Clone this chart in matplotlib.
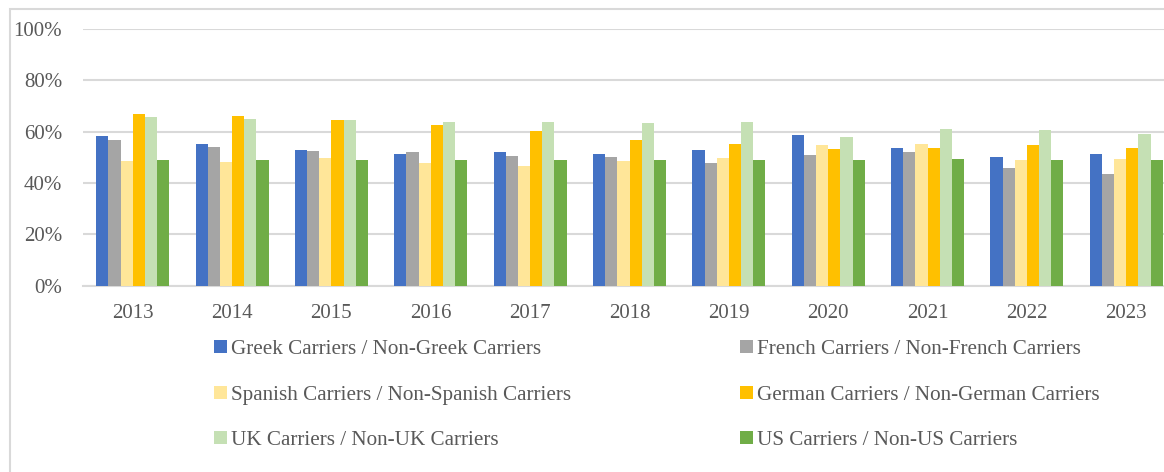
import numpy as np
import matplotlib
matplotlib.use("Agg")
import matplotlib.pyplot as plt
from matplotlib.patches import Rectangle
from matplotlib.ticker import PercentFormatter

years = ["2013", "2014", "2015", "2016", "2017", "2018", "2019", "2020", "2021", "2022", "2023"]

greek = [58.3, 55.2, 52.8, 51.3, 52.0, 51.3, 52.8, 58.7, 53.8, 50.0, 51.3]
french = [56.7, 53.9, 52.4, 52.0, 50.7, 50.0, 47.7, 50.9, 52.2, 45.9, 43.5]
spanish = [48.6, 48.3, 49.8, 47.7, 46.5, 48.6, 49.8, 54.8, 55.2, 49.1, 49.2]
german = [66.9, 66.1, 64.4, 62.6, 60.3, 56.8, 55.2, 53.3, 53.8, 55.0, 53.5]
uk = [65.7, 65.0, 64.7, 63.7, 63.7, 63.5, 63.7, 57.8, 60.9, 60.5, 59.1]
us = [49.1, 49.0, 49.0, 48.9, 48.9, 48.9, 48.9, 49.1, 49.2, 49.0, 48.9]

labels = ["Greek Carriers / Non-Greek Carriers", "French Carriers / Non-French Carriers",
          "Spanish Carriers / Non-Spanish Carriers", "German Carriers / Non-German Carriers",
          "UK Carriers / Non-UK Carriers", "US Carriers / Non-US Carriers"]
colors = ["#4472C4", "#A5A5A5", "#FFE699", "#FFC000", "#C5E0B4", "#70AD47"]

series = [greek, french, spanish, german, uk, us]

plt.rcParams["font.family"] = ["Liberation Serif", "DejaVu Serif"]
textcolor = "#595959"
gridcolor = "#D9D9D9"

fig = plt.figure(figsize=(11.64, 4.72), dpi=100)
# the chart runs past the right edge of the picture, as in the source
ax = fig.add_axes([83 / 1164, 186.3 / 472, 1093 / 1164, 256.7 / 472])

x = np.arange(len(years))
bw = 0.1225
for i, (vals, col, lab) in enumerate(zip(series, colors, labels)):
    ax.bar(x + (i - 2.5) * bw, vals, bw, color=col, label=lab, zorder=3)

ax.set_xlim(-0.5, len(years) - 0.5)
ax.set_ylim(0, 100)
ax.set_yticks(np.arange(0, 101, 20))
ax.yaxis.set_major_formatter(PercentFormatter(decimals=0))
ax.set_xticks(x)
ax.set_xticklabels(years)
ax.grid(axis="y", color=gridcolor, linewidth=1.5, zorder=0)
ax.tick_params(axis="both", length=0, labelsize=15, colors=textcolor)
ax.tick_params(axis="y", pad=15)
ax.tick_params(axis="x", pad=13)
for s in ["top", "right", "left"]:
    ax.spines[s].set_visible(False)
ax.spines["bottom"].set_color(gridcolor)
ax.spines["bottom"].set_linewidth(1.5)

handles, labs = ax.get_legend_handles_labels()
order = [0, 2, 4, 1, 3, 5]
leg = fig.legend([handles[k] for k in order], [labs[k] for k in order],
                 loc="upper left", bbox_to_anchor=(195 / 1164, 151 / 472), ncol=2, frameon=False,
                 fontsize=15.2, handlelength=0.6, handleheight=0.6, handletextpad=0.2,
                 columnspacing=8.0, labelspacing=1.25)
for t in leg.get_texts():
    t.set_color(textcolor)

# outer chart border
fig.patches.append(Rectangle((10.5 / 1164, -0.05), 1.2, (472 - 9) / 472 + 0.05,
                             transform=fig.transFigure, fill=False, edgecolor=gridcolor,
                             linewidth=1.5))

fig.savefig("out.png", dpi=100)
